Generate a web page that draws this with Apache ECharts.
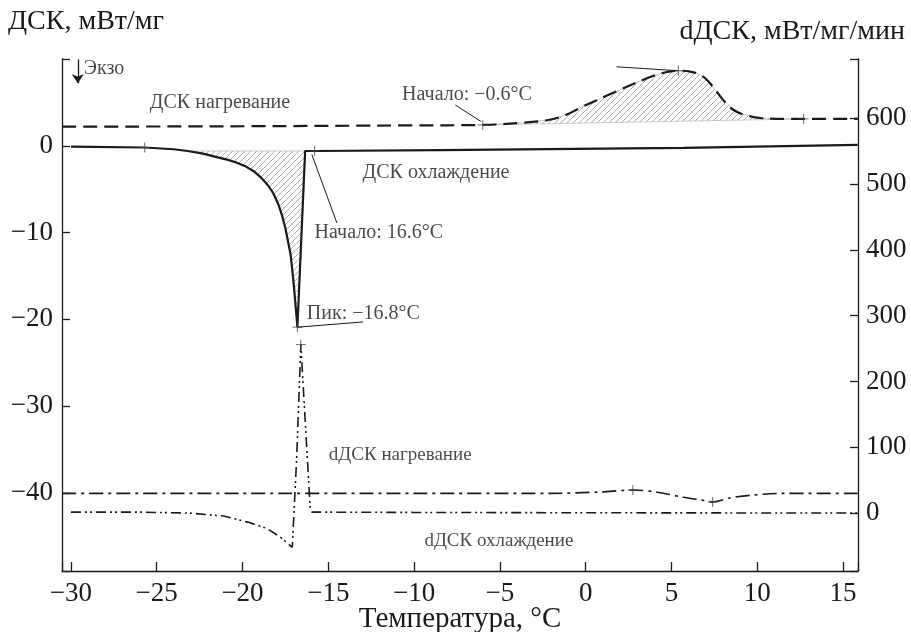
<!DOCTYPE html>
<html>
<head>
<meta charset="utf-8">
<script src="https://cdn.jsdelivr.net/npm/echarts@6/dist/echarts.min.js"></script>
</head>
<body style="margin:0">
<div id="main" style="width:911px;height:632px"></div>
<script>
// ДСК нагревание (left axis, мВт/мг)
var heatT = [-30.5, -20, -10, -6.0, -3.7, -2.1, -1.1, -0.3, 1.6, 3.6, 4.6, 5.4, 6.1, 6.65, 7.06, 7.65, 8.0, 8.6, 9.2, 10.2, 11.7, 12.7, 15.85];
var heatV = [2.2, 2.25, 2.35, 2.4, 2.65, 3.0, 3.6, 4.4, 6.1, 7.8, 8.45, 8.65, 8.55, 8.2, 7.6, 6.2, 5.3, 4.15, 3.6, 3.2, 3.1, 3.1, 3.1];
// ДСК охлаждение
var coolT = [-30.0, -25.7, -24.0, -23.2, -22.3, -21.5, -20.9, -20.4, -19.8, -19.3, -18.9, -18.5, -18.2, -17.9, -17.7, -17.5, -17.35, -17.2, -17.1, -17.0, -16.9, -16.8, -16.35, -15.8, -8.5, 5.7, 15.85];
var coolV = [-0.1, -0.2, -0.4, -0.6, -0.9, -1.3, -1.6, -1.9, -2.4, -3.0, -3.7, -4.6, -5.5, -6.8, -8.0, -9.5, -11.0, -12.5, -14.3, -16.3, -18.6, -20.9, -0.6, -0.6, -0.5, -0.25, 0.1];
// dДСК нагревание (right axis, мВт/мг/мин)
var dHeatT = [-30.5, -20, -10, -2.1, 0.8, 2.75, 4.1, 5.7, 6.7, 7.4, 8.4, 9.6, 11.5, 15.85];
var dHeatV = [30, 30, 30, 30, 32, 35, 32, 24, 20, 17, 23, 27, 30, 30];
// dДСК охлаждение
var dCoolT = [-30.0, -26, -23.1, -21.1, -19.7, -18.6, -17.8, -17.1, -16.85, -16.6, -16.05, -15.95, -10, 0, 15.85];
var dCoolV = [1.5, 1.5, 0, -4.5, -13.7, -23, -36.5, -52, 80, 256, 5, 1.5, 1, 0.5, 0];

// hatched peak areas: index ranges in the curves above
var heatArea = [3, 21];
var coolArea = [3, 22];

// small crosses
var crossL = [[-6.0, 2.4], [5.4, 8.65], [12.7, 3.1], [-25.7, -0.2], [-15.8, -0.6], [-16.8, -20.9]];
var crossR = [[-16.6, 256], [2.75, 35], [7.4, 17]];

// texts: [text, T, value]
var textsL = [
    ['ДСК нагревание', -25.4, 5.0],
    ['Начало: −0.6°С', -10.7, 5.9],
    ['Пик: 5.3°С', -0.98, 10.1],
    ['ДСК охлаждение', -13.0, -3.1],
    ['Начало: 16.6°С', -15.8, -10.0],
    ['Пик: −16.8°С', -16.25, -19.4],
    ['Экзо', -29.25, 8.9]
];
var textsR = [
    ['dДСК нагревание', -14.97, 88],
    ['dДСК охлаждение', -9.4, -42]
];
// leader lines: [T1, v1, T2, v2]
var leaders = [
    [-7.6, 4.7, -6.1, 2.8],
    [1.8, 9.1, 5.37, 8.65],
    [-15.96, -1.0, -14.5, -8.9],
    [-16.77, -20.9, -12.98, -20.3]
];
var exoArrow = [-29.6, 9.95, -29.6, 7.2];

var serif = 'Liberation Serif';
var ink = '#1a1a1a';

function makeHatch() {
    var c = document.createElement('canvas');
    c.width = 6; c.height = 6;
    var g = c.getContext('2d');
    g.strokeStyle = '#8a8a8a';
    g.lineWidth = 0.7;
    g.beginPath();
    g.moveTo(0, 6); g.lineTo(6, 0);
    g.moveTo(-1, 1); g.lineTo(1, -1);
    g.moveTo(5, 7); g.lineTo(7, 5);
    g.stroke();
    return c;
}
var hatchImg = makeHatch();

function pairs(t, v) {
    var res = [];
    for (var i = 0; i < t.length; i++) res.push([t[i], v[i]]);
    return res;
}
function minus(v) {
    return (v < 0 ? '−' : '') + Math.abs(v);
}

var areas = [
    pairs(heatT.slice(heatArea[0], heatArea[1] + 1), heatV.slice(heatArea[0], heatArea[1] + 1)),
    pairs(coolT.slice(coolArea[0], coolArea[1] + 1), coolV.slice(coolArea[0], coolArea[1] + 1))
];

var chart = echarts.init(document.getElementById('main'));

var option = {
    animation: false,
    backgroundColor: '#fff',
    textStyle: {fontFamily: serif},
    grid: {left: 62, right: 53, top: 59, bottom: 61, outerBoundsMode: 'none', containLabel: false},
    graphic: [
        {type: 'text', left: 8, top: 8, style: {text: 'ДСК, мВт/мг', font: '28px "Liberation Serif"', fill: ink}},
        {type: 'text', right: 6, top: 18, style: {text: 'dДСК, мВт/мг/мин', font: '28px "Liberation Serif"', fill: ink}}
    ],
    xAxis: {
        type: 'value',
        min: -30.52, max: 15.87,
        splitNumber: 9,
        name: 'Температура, °С',
        nameLocation: 'middle',
        nameGap: 34,
        nameMoveOverlap: false,
        nameTextStyle: {fontSize: 29, color: ink, fontFamily: serif},
        axisLine: {onZero: false, lineStyle: {color: ink, width: 1.3}},
        axisTick: {inside: true, length: 9, lineStyle: {color: ink, width: 1.3}},
        axisLabel: {
            fontSize: 27, color: ink, fontFamily: serif, margin: 9,
            formatter: function (v) { return Math.abs(v % 5) > 1e-6 ? '' : minus(v); }
        },
        splitLine: {show: false}
    },
    yAxis: [{
        type: 'value',
        position: 'left',
        min: -49, max: 10,
        splitNumber: 6,
        axisLine: {show: true, onZero: false, lineStyle: {color: ink, width: 1.3}},
        axisTick: {inside: true, length: 8, lineStyle: {color: ink, width: 1.3}},
        axisLabel: {
            fontSize: 27, color: ink, fontFamily: serif, margin: 9,
            formatter: function (v) { return (v > 0 || v < -40 || Math.abs(v % 10) > 1e-6) ? '' : minus(v); }
        },
        splitLine: {show: false}
    }, {
        type: 'value',
        position: 'right',
        min: -88, max: 690,
        splitNumber: 8,
        axisLine: {show: true, onZero: false, lineStyle: {color: ink, width: 1.3}},
        axisTick: {inside: true, length: 8, lineStyle: {color: ink, width: 1.3}},
        axisLabel: {
            fontSize: 27, color: ink, fontFamily: serif, margin: 8,
            formatter: function (v) { return (v < 0 || v > 600 || Math.abs(v % 100) > 1e-6) ? '' : String(v); }
        },
        splitLine: {show: false}
    }],
    series: [{
        type: 'custom',
        yAxisIndex: 0,
        silent: true,
        z: 1,
        data: [areas[0][0], areas[1][0]],
        renderItem: function (params, api) {
            var a = areas[params.dataIndex];
            var pts = a.map(function (p) { return api.coord(p); });
            return {
                type: 'polygon',
                shape: {points: pts},
                style: {fill: {image: hatchImg, repeat: 'repeat'}, stroke: '#aaa', lineWidth: 0.6}
            };
        }
    }, {
        name: 'ДСК нагревание',
        type: 'line',
        yAxisIndex: 0,
        data: pairs(heatT, heatV),
        smooth: 0.35,
        showSymbol: false,
        z: 3,
        lineStyle: {color: ink, width: 2.2, type: [14, 7]},
        markLine: {
            silent: true,
            symbol: ['none', 'arrow'],
            symbolSize: 9,
            label: {show: false},
            lineStyle: {color: ink, width: 1.3, type: 'solid'},
            data: [[{coord: [exoArrow[0], exoArrow[1]]}, {coord: [exoArrow[2], exoArrow[3]]}]]
        }
    }, {
        name: 'ДСК охлаждение',
        type: 'line',
        yAxisIndex: 0,
        data: pairs(coolT, coolV),
        showSymbol: false,
        z: 3,
        lineStyle: {color: ink, width: 2.2},
        markLine: {
            silent: true,
            symbol: ['none', 'none'],
            label: {show: false},
            lineStyle: {color: ink, width: 1, type: 'solid'},
            data: leaders.map(function (l) { return [{coord: [l[0], l[1]]}, {coord: [l[2], l[3]]}]; })
        }
    }, {
        name: 'dДСК нагревание',
        type: 'line',
        yAxisIndex: 1,
        data: pairs(dHeatT, dHeatV),
        smooth: 0.3,
        showSymbol: false,
        z: 3,
        lineStyle: {color: ink, width: 1.6, type: [14, 5, 3, 5]}
    }, {
        name: 'dДСК охлаждение',
        type: 'line',
        yAxisIndex: 1,
        data: pairs(dCoolT, dCoolV),
        showSymbol: false,
        z: 3,
        lineStyle: {color: ink, width: 1.6, type: [10, 4, 2, 3, 2, 4]}
    }, {
        type: 'scatter',
        yAxisIndex: 0,
        data: crossL,
        symbol: 'path://M0,5L10,5M5,0L5,10',
        symbolSize: 10,
        silent: true,
        z: 4,
        itemStyle: {color: 'none', borderColor: '#444', borderWidth: 1}
    }, {
        type: 'scatter',
        yAxisIndex: 1,
        data: crossR,
        symbol: 'path://M0,5L10,5M5,0L5,10',
        symbolSize: 10,
        silent: true,
        z: 4,
        itemStyle: {color: 'none', borderColor: '#444', borderWidth: 1}
    }, {
        type: 'scatter',
        yAxisIndex: 0,
        symbolSize: 0,
        silent: true,
        data: textsL.map(function (a) { return {name: a[0], value: [a[1], a[2]]}; }),
        label: {show: true, position: 'right', distance: 0, formatter: '{b}', fontSize: 20, color: ink, fontFamily: serif}
    }, {
        type: 'scatter',
        yAxisIndex: 1,
        symbolSize: 0,
        silent: true,
        data: textsR.map(function (a) { return {name: a[0], value: [a[1], a[2]]}; }),
        label: {show: true, position: 'right', distance: 0, formatter: '{b}', fontSize: 19, color: ink, fontFamily: serif}
    }]
};

chart.setOption(option);
</script>
</body>
</html>
